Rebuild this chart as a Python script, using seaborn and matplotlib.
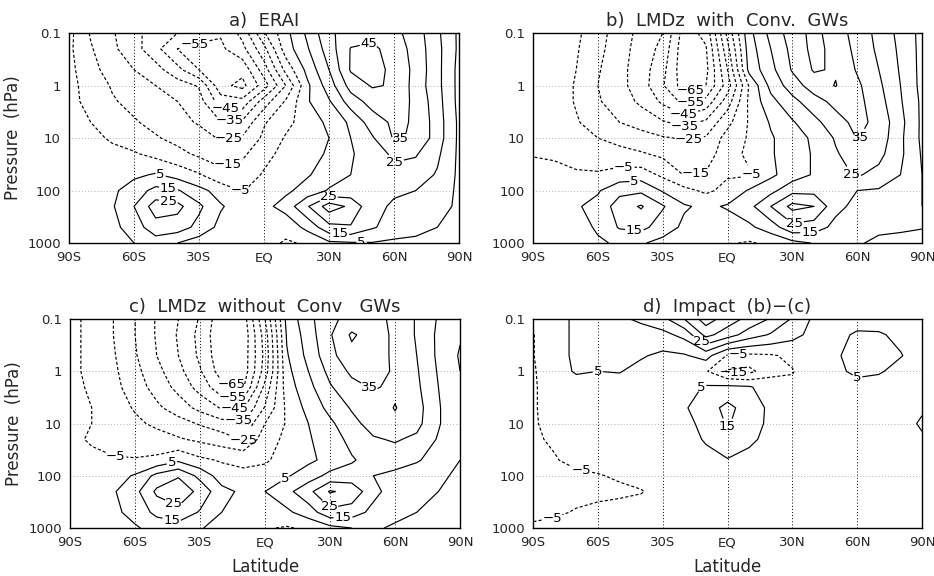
import numpy as np
import matplotlib
matplotlib.use("Agg")
import matplotlib.pyplot as plt
from matplotlib.ticker import FixedLocator
import seaborn as sns

# grid of the zonal-mean wind fields (m/s)
lats = [-90, -80, -70, -60, -50, -40, -30, -20, -10, 0, 10, 20, 30, 40, 50, 60, 70, 80, 90]
plevs = [1000, 500, 200, 100, 50, 20, 10, 5, 2, 1, 0.5, 0.2, 0.1]

# a) ERAI, one row per pressure level (1000 hPa first)
erai = [
    [-1, 0, 2, 5, 10, 5, 0, -3, -3, -2, -6, -4, 3, 4, 4.5, 3, 2, 0, 0],
    [-1, 0, 2, 10, 21, 20, 12, 2, -3, -2, -2, 8, 22, 24, 16, 11, 9, 5, 1],
    [-3, -1, 4, 15, 30, 28, 17, 6, 0, 2, 9, 24, 40, 33, 17, 14, 12, 9, 3],
    [-2, -1, 3, 10, 18, 16, 8, 1, -5.5, -1, 3, 9, 16, 18, 16, 16, 15, 11, 3],
    [-2, -1, 0, 3, 6, 1, -4, -12, -10, -4, -1, 4, 10, 15, 19, 22, 20, 14, 3],
    [-2, -2, -3, -4, -8, -12, -17, -20, -17, -8, -2, 2, 6, 14, 20, 27, 26, 17, 3],
    [-2, -3, -6, -10, -14, -18, -21, -26, -24, -13, -4, 0, 5, 15, 24, 36, 34, 20, 3],
    [-3, -5, -10, -14, -18, -22, -26, -34.5, -33, -16, -8, 0, 7, 17, 30, 37, 34, 20, 3],
    [-3, -7, -14, -18, -22, -25, -31, -50, -52, -30, -14, 4, 14, 30, 39, 40, 33, 19, 2],
    [-2, -9, -16, -21, -25, -30, -36, -62, -68, -50, -25, 3, 20, 39, 46, 44, 31, 18, 2],
    [-2, -12, -19, -25, -31, -42, -55, -62, -62, -40, -12, 8, 25, 46, 48, 43, 32, 18, 2],
    [-3, -14, -23, -31, -42, -55, -58, -57, -48, -28, 0, 14, 30, 45.5, 47, 41, 31, 18, 3],
    [-2, -16, -24, -32, -40, -45, -50, -54, -42, -16, 2, 17, 33, 40, 42, 38, 30, 17, 3],
]

# b) LMDz with convective gravity waves
lmdz_conv = [
    [-1, 0, 1, 4, 6, 6, 2, -2, -3, -4, -6, -3, 2, 5.5, 7, 6, 3, 3, 1],
    [0, 1, 2, 6, 16, 18, 10, 3, 0, 0, 3, 10, 22, 20, 12, 8, 7, 6, 5.5],
    [0, 1, 4, 8, 20, 26, 16, 6, 3, 6, 12, 25, 38, 35, 18, 12, 10, 8, 5],
    [0, 0, 2, 4, 12, 13, 4, -2, -7, -2, 6, 12, 22, 22, 16, 15, 14, 11, 5],
    [-2, -3, -4, -4, -1, 0, -7, -15.5, -14, -6, -6, 3, 10, 16, 22, 26, 22, 15, 5],
    [-5.5, -6, -8, -10, -12, -14, -17, -21, -20, -9, -3, 4, 10, 16, 24, 30, 28, 17, 4],
    [-6, -7, -11, -15, -18, -21, -24, -26, -24, -11, -4, 4, 10, 17, 26, 35.5, 31, 17, 3],
    [-7, -9, -14, -20, -25, -29, -34, -38, -33, -18, -4, 6, 14, 22, 31, 38, 32, 18, 3],
    [-7, -9, -16, -24, -30, -37, -47, -58, -52, -30, -3, 12, 22, 31, 38, 38, 29, 16, 3],
    [-7, -9, -16, -25, -32, -40, -54, -70, -65, -40, -4, 18, 30, 40, 45.5, 37, 27, 15, 2],
    [-7, -9, -15, -24, -32, -40, -52, -72, -68, -35, 8, 22, 36, 46, 44, 34, 25, 14, 2],
    [-7, -9, -14, -22, -31, -39, -48, -72, -66, -28, 10, 25, 38, 48, 42, 32, 23, 13, 2],
    [-7, -9, -13, -21, -30, -38, -45, -70, -62, -22, 12, 28, 40, 48, 40, 31, 22, 12, 2],
]

# c) LMDz without convective gravity waves
lmdz_noconv = [
    [-1, 0, 1, 4, 8, 10, 6, 0, -3, -4, -6, -3, 2, 5, 6, 4, 3, 2, 1],
    [0, 1, 3, 8, 18, 22, 14, 5, 1, 1, 3, 10, 22, 20, 12, 7, 5, 4, 2],
    [0, 1, 4, 12, 27, 32, 22, 8, 3, 5, 12, 22, 36, 32, 18, 10, 7, 5, 3],
    [0, 0, 1, 6, 18, 24, 12, 0, -4, -2, 4, 10, 18, 19, 15, 12, 10, 7, 3],
    [-2, -4, -4.5, -4.5, -3, 3, -3, -6, -6, -6, -2, 3, 8, 14, 19, 20, 16, 11, 5],
    [-4, -5.5, -7, -9, -11, -14, -17, -20, -26, -9, -3, 4, 10, 18, 24, 26, 23, 14, 6],
    [-3, -5, -9, -13, -17, -21, -26, -31, -33, -15, -4, 5, 13, 22, 29, 33, 28, 16, 6],
    [-3, -5, -10, -16, -23, -30, -38, -46, -46, -24, -3, 8, 18, 26, 30, 35.5, 29, 16, 6],
    [-3, -6, -12, -20, -29, -38, -49, -62, -66, -32, 0, 12, 24, 32, 36, 33, 27, 15, 6],
    [-3, -7, -13, -22, -32, -42, -54, -70, -71, -40, 2, 15, 28, 37, 38, 34, 26, 14, 5],
    [-3, -7, -14, -24, -35, -45, -57, -72, -71, -42, 4, 18, 32, 42, 40, 33, 25, 13, 4],
    [-3, -7, -15, -25, -36, -46, -58, -73, -72, -40, 6, 20, 34, 46.5, 40, 33, 24, 13, 6],
    [-3, -7, -15, -25, -36, -45, -56, -72, -70, -35, 8, 22, 33, 38, 38, 33, 24, 14, 6],
]

# d) impact (b)-(c)
impact = [
    [-4, -3, -2, -1, 0, 0, 0, 0, 0, 0, 0, 0, 0, 0, 0, 0, 0, 0, 0],
    [-6.5, -6, -4.5, -3, -2, -1, 0, 0, 0, 0, 0, 0, 0, 0, 0, 0, 0, 0, 0],
    [-7, -7, -7, -7, -6.5, -5.5, -2, 0, 0, 0, 0, 0, 0, 0, 0, 0, 0, 0, 0],
    [-7, -7, -6.5, -5.5, -4, -2, 0, 0, 0, 0, 0, 0, 0, 0, 0, 0, 0, 0, 0],
    [-7, -5.5, -3, -2, -1, 0, 0, 0, 2, 4.5, 2, 1, 0, 0, 0, 0, 0, 0, 1],
    [-6, -4, -1, 0, 0, 0, 0, 1, 6, 11, 7, 2, 0, 0, 0, 0, 1, 2, 4],
    [-6, -2, 0, 0, 0, 0, 0, 2, 8, 16, 9, 3, 0, 0, 0, 1, 1, 2, 6],
    [-6, -1, 0, 0, 0, 0, 1, 4, 10, 18, 10, 3, 0, 0, 0, 1, 1, 2, 4],
    [-6, -1, 1, 1, 1, 0, 0, 1, 6, 7, 6, 0, -3, -1, 1, 2, 1, 0, 0],
    [-6, 1, 6, 5, 5.5, 2, 0, 0, -4, -16, -18, -8, -5.5, 0, 3, 7, 6, 2, 0],
    [-5.5, 3, 6, 7, 7, 6, 3, 4, 9, -6, -7, -6, -3, 1, 4, 8, 7, 5.5, 1],
    [-5.5, 3, 6, 8, 9, 10, 12, 18, 38, 30, 20, 14, 8, 2, 3, 6, 6, 3, 0],
    [-4, 3, 6, 9, 13, 17, 22, 35, 50, 40, 32, 24, 14, 3, 1, 2, 1, 0, 0],
]

# where the contour labels sit in each panel (lat, hPa)
label_spots = [
    [(-31, 0.22), (49, 0.2), (-18, 3), (-16, 5), (-16, 11), (-16, 40), (-11, 98),
     (-48, 55), (-44, 85), (-44, 140), (63, 12), (61, 40), (30, 140), (35, 620),
     (45, 850)],
    [(-17, 1.3), (-17, 2.2), (-20, 3.4), (-20, 5.5), (-18, 10), (-14, 61), (-48, 37),
     (-43, 63), (-43, 560), (11, 51), (64, 11), (57, 51), (31, 420), (38, 650)],
    [(-16, 2.1), (-15, 3), (-14, 4.4), (-12, 7.8), (-10, 22), (-69, 43), (-43, 57),
     (-43, 420), (-43, 690), (7, 83), (49, 1.8), (29, 420), (36, 600)],
    [(-12, 0.26), (5, 0.45), (3, 1.16), (-60, 1.0), (-13, 1.9), (0, 15), (60, 1.8),
     (-68, 95), (-81, 690)],
]

titles = ["a)  ERAI", "b)  LMDz  with  Conv.  GWs",
          "c)  LMDz  without  Conv   GWs", "d)  Impact  (b)\u2212(c)"]
lat_ticks = [-90, -60, -30, 0, 30, 60, 90]
lat_labels = ["90S", "60S", "30S", "EQ", "30N", "60N", "90N"]
p_ticks = [1000, 100, 10, 1, 0.1]
p_labels = ["1000", "100", "10", "1", "0.1"]
levels = [-75, -65, -55, -45, -35, -25, -15, -5, 5, 15, 25, 35, 45, 55]

sns.set_style("white")
plt.rcParams["font.family"] = ["DejaVu Sans"]
plt.rcParams["lines.dashed_pattern"] = [2.6, 1.8]


def fmt(v):
    return f"{v:.0f}".replace("-", "\u2212")


def draw_panel(ax, field, title, spots, ylabel, xlabel):
    logp = np.log10(plevs)
    z = np.array(field, dtype=float)
    styles = ["dashed" if lv < 0 else "solid" for lv in levels]
    cs = ax.contour(lats, logp, z, levels=levels, colors="black",
                    linewidths=0.85, linestyles=styles)
    manual = [(la, np.log10(p)) for la, p in spots]
    texts = ax.clabel(cs, fmt=fmt, fontsize=9.5, inline=True, inline_spacing=1,
                      manual=manual)
    for t in texts:
        t.set_rotation(0)

    for lt in [-60, -30, 0, 30, 60]:
        ax.axvline(lt, color="black", lw=0.7, ls=(0, (1, 2.2)), zorder=0)
    for pt in [2, 1, 0]:
        ax.axhline(pt, color="#b0b0b0", lw=0.7, ls=(0, (1, 2.2)), zorder=0)

    ax.set_xlim(-90, 90)
    ax.set_ylim(3, -1)
    ax.set_xticks(lat_ticks)
    ax.set_xticklabels(lat_labels)
    ax.set_yticks(np.log10(p_ticks))
    ax.set_yticklabels(p_labels)
    minor_y = [np.log10(m * 10.0 ** e) for e in range(-1, 3) for m in range(2, 10)]
    ax.yaxis.set_minor_locator(FixedLocator(minor_y))
    ax.xaxis.set_minor_locator(FixedLocator(list(range(-90, 91, 10))))
    ax.tick_params(which="major", direction="out", length=4, width=0.8,
                   labelsize=9.5, pad=2)
    ax.tick_params(which="minor", direction="out", length=2, width=0.6)
    for sp in ax.spines.values():
        sp.set_linewidth(1.0)
        sp.set_color("black")
    ax.set_title(title, fontsize=13, pad=5)
    if ylabel:
        ax.set_ylabel("Pressure  (hPa)", fontsize=12, labelpad=4)
    if xlabel:
        ax.set_xlabel("Latitude", fontsize=12, labelpad=6)


fig = plt.figure(figsize=(9.34, 5.76), dpi=100)
positions = [
    [0.0739, 0.578, 0.4176, 0.3646],
    [0.5707, 0.578, 0.4165, 0.3646],
    [0.0750, 0.0833, 0.4176, 0.3628],
    [0.5707, 0.0833, 0.4165, 0.3628],
]
fields = [erai, lmdz_conv, lmdz_noconv, impact]
for i, (pos, fld, ttl, spots) in enumerate(zip(positions, fields, titles, label_spots)):
    ax = fig.add_axes(pos)
    draw_panel(ax, fld, ttl, spots, ylabel=(i % 2 == 0), xlabel=(i >= 2))

fig.savefig("out.png", dpi=100)
